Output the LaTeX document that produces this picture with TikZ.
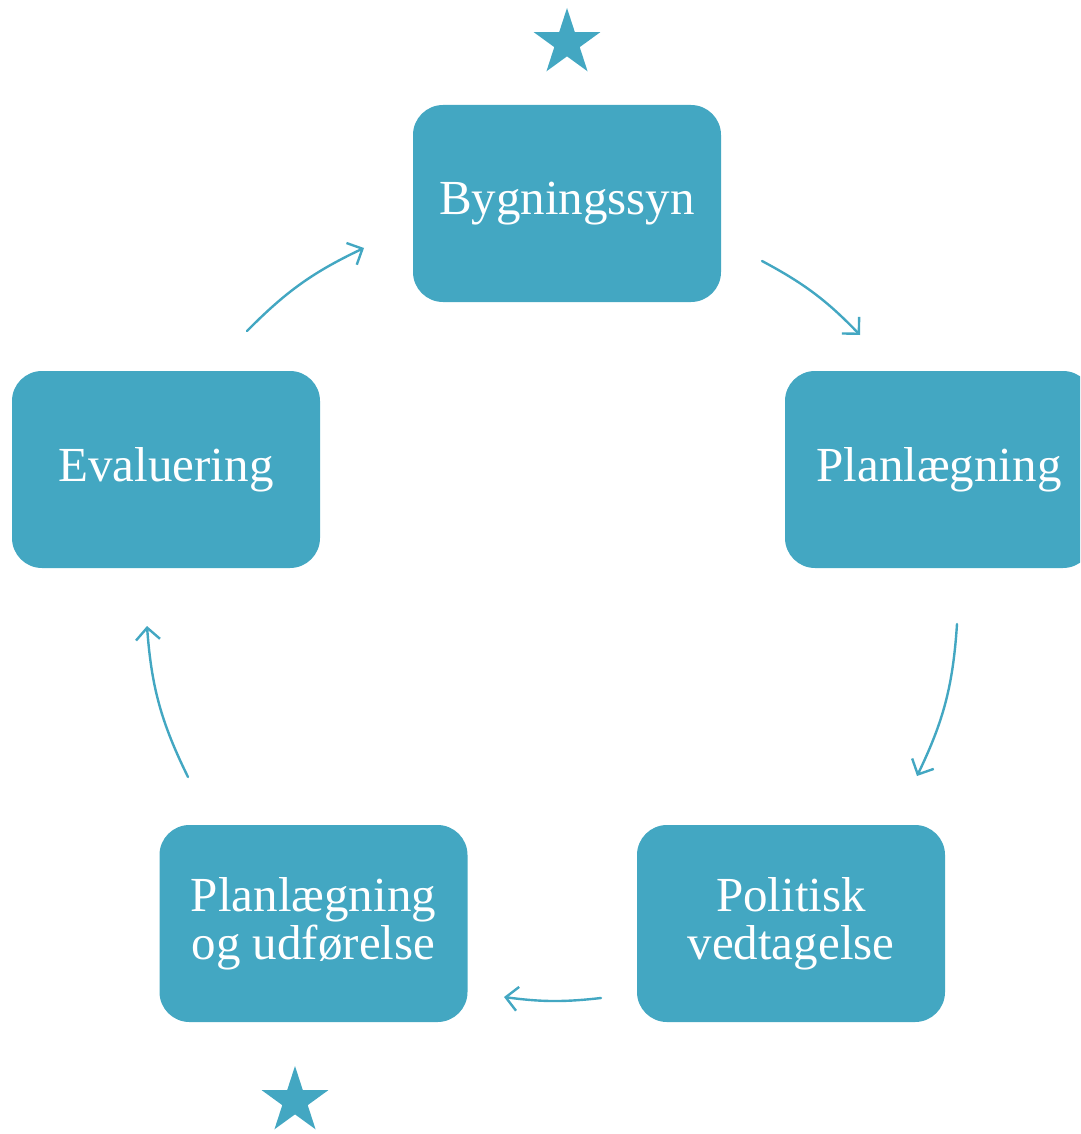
\documentclass[tikz,border=0pt]{standalone}
\usepackage{fontspec}
\setmainfont{Liberation Serif}
\usetikzlibrary{arrows.meta,shapes.geometric}
\definecolor{teal}{HTML}{43A7C2}
\tikzset{
  stage/.style={rectangle, rounded corners=30pt, fill=teal, text=white,
    minimum width=308pt, minimum height=197pt, inner sep=0pt, align=center,
    font=\fontsize{49}{48}\selectfont},
  flow/.style={draw=teal, line width=2.4pt, line cap=round,
    -{Straight Barb[length=12pt,width=24pt,line width=2.4pt]}},
  mark star/.style={star, star points=5, star point ratio=2.618, fill=teal,
    minimum size=70pt, inner sep=0pt, draw=none}
}
\begin{document}
\begin{tikzpicture}[x=1pt,y=1pt]
\useasboundingbox (0,0) rectangle (1080,-1134);
\clip (0,0) rectangle (1080,-1134);

% stages of the cycle
\node[stage] (syn)  at (567,-203.5)   {Bygningssyn};
\node[stage] (plan) at (939,-469.5)   {Planlægning};
\node[stage] (pol)  at (791,-923.5)   {Politisk\\vedtagelse};
\node[stage] (udf)  at (313.5,-923.5) {Planlægning\\og udførelse};
\node[stage] (eval) at (166,-469.5)   {Evaluering};

% stars marking two of the stages
\node[mark star] (star1) at (567,-43)  {};
\node[mark star] (star2) at (295,-1101) {};

% end points of the curved arrows between the stages
\coordinate (a1s) at (247,-331);  \coordinate (a1e) at (364,-248);
\coordinate (a2s) at (762,-261);  \coordinate (a2e) at (860,-335);
\coordinate (a3s) at (957,-624);  \coordinate (a3e) at (917,-776);
\coordinate (a4s) at (601,-998);  \coordinate (a4e) at (504,-997);
\coordinate (a5s) at (188,-777);  \coordinate (a5e) at (147,-626);

\draw[flow] (a1s) to[bend left=10] (a1e);
\draw[flow] (a2s) to[bend left=9]  (a2e);
\draw[flow] (a3s) to[bend left=11] (a3e);
\draw[flow] (a4s) to[bend left=7]  (a4e);
\draw[flow] (a5s) to[bend left=11] (a5e);
\end{tikzpicture}
\end{document}
